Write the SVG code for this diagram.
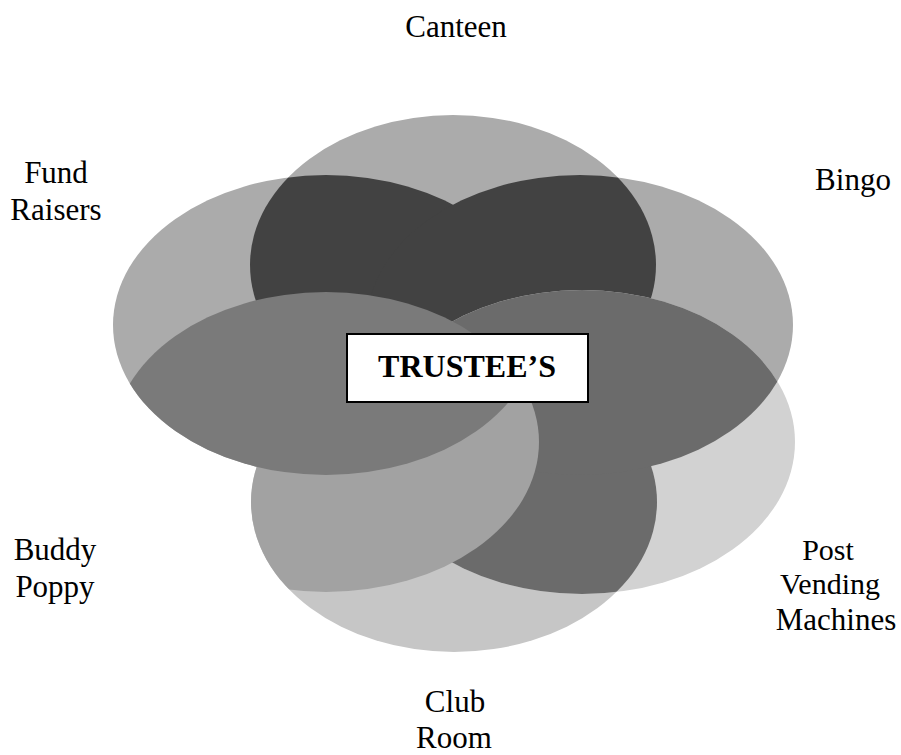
<svg xmlns="http://www.w3.org/2000/svg" width="901" height="755" viewBox="0 0 901 755">
<style>
.lbl{font-family:"Liberation Serif","Times New Roman",serif;font-size:31px;fill:#000;text-anchor:middle}
.sm{font-size:30px}
.ttl{font-family:"Liberation Serif","Times New Roman",serif;font-size:32px;font-weight:bold;fill:#000;text-anchor:middle}
.l1{fill:#ababab}
.dk{fill:#424242}
.l2{fill:#c6c6c6}
.l3{fill:#d2d2d2}
.md{fill:#6b6b6b}
.md2{fill:#7a7a7a}
.sp{fill:#a2a2a2}
</style>
<defs>
<clipPath id="cCanteen"><ellipse cx="453" cy="265" rx="203" ry="150"/></clipPath>
<clipPath id="cFund"><ellipse cx="326" cy="325" rx="213" ry="150"/></clipPath>
<clipPath id="cBingo"><ellipse cx="580" cy="325" rx="213" ry="150"/></clipPath>
<clipPath id="cClub"><ellipse cx="454" cy="502" rx="203" ry="150"/></clipPath>
</defs>
<rect width="901" height="755" fill="#fff"/>
<g id="canteen">
<ellipse class="l1" cx="453" cy="265" rx="203" ry="150"/>
<text class="lbl" x="456" y="37">Canteen</text>
</g>
<g id="fund-raisers">
<ellipse class="l1" cx="326" cy="325" rx="213" ry="150"/>
<text class="lbl" x="56" y="183">Fund</text>
<text class="lbl" x="56" y="220">Raisers</text>
</g>
<g id="bingo">
<ellipse class="l1" cx="580" cy="325" rx="213" ry="150"/>
<text class="lbl" x="853" y="190">Bingo</text>
</g>
<g id="overlap-top">
<ellipse class="dk" cx="326" cy="325" rx="213" ry="150" clip-path="url(#cCanteen)"/>
<ellipse class="dk" cx="580" cy="325" rx="213" ry="150" clip-path="url(#cCanteen)"/>
</g>
<g id="club-room">
<ellipse class="l2" cx="454" cy="502" rx="203" ry="150"/>
<text class="lbl" x="455" y="712">Club</text>
<text class="lbl" x="454" y="748">Room</text>
</g>
<g id="post-vending-machines">
<ellipse class="l3" cx="582" cy="442" rx="213" ry="152"/>
<text class="lbl sm" x="828" y="560">Post</text>
<text class="lbl sm" x="830" y="594">Vending</text>
<text class="lbl" x="836" y="630">Machines</text>
</g>
<g id="overlap-lower">
<ellipse class="md" cx="582" cy="442" rx="213" ry="152" clip-path="url(#cClub)"/>
<ellipse class="md" cx="582" cy="442" rx="213" ry="152" clip-path="url(#cBingo)"/>
</g>
<g id="buddy-poppy">
<ellipse class="sp" cx="326" cy="442" rx="213" ry="150" clip-path="url(#cClub)"/>
<ellipse class="md2" cx="326" cy="442" rx="213" ry="150" clip-path="url(#cFund)"/>
<text class="lbl" x="55" y="560">Buddy</text>
<text class="lbl" x="55" y="597">Poppy</text>
</g>
<g id="connectors"/>
<g id="trustees">
<rect x="347" y="334" width="241" height="68" fill="#fff" stroke="#000" stroke-width="2"/>
<text class="ttl" x="467" y="377">TRUSTEE’S</text>
</g>
</svg>
